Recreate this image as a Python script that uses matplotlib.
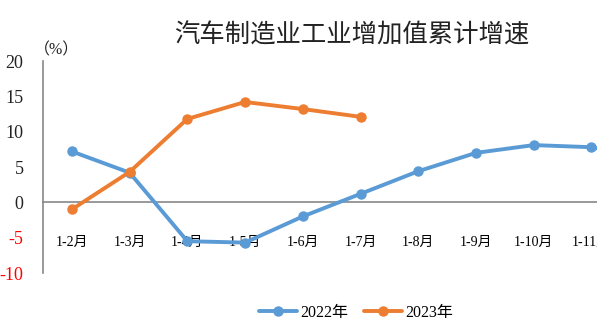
import matplotlib
matplotlib.use("Agg")
import matplotlib.pyplot as plt

plt.rcParams['font.family'] = ['Liberation Serif', 'Noto Sans CJK SC', 'DejaVu Sans']

categories = ["1-2月", "1-3月", "1-4月", "1-5月", "1-6月", "1-7月",
              "1-8月", "1-9月", "1-10月", "1-11月", "1-12月"]
values_2022 = [7.2, 4.2, -5.5, -5.7, -2.0, 1.2, 4.4, 7.0, 8.1, 7.8, 6.3]
values_2023 = [-1.0, 4.3, 11.8, 14.2, 13.2, 12.1]
yticks = [-10, -5, 0, 5, 10, 15, 20]

blue = "#5B9BD5"
orange = "#ED7D31"

fig = plt.figure(figsize=(5.97, 3.35), dpi=100)
ax = fig.add_axes([43/597, 62/335, 635/597, 212/335])

x22 = list(range(len(values_2022)))
x23 = list(range(len(values_2023)))
ax.plot(x22, values_2022, color=blue, lw=2.8, marker='o', ms=6.5,
        label="2022年", solid_capstyle='round', clip_on=False, zorder=3)
ax.plot(x23, values_2023, color=orange, lw=2.8, marker='o', ms=6.5,
        label="2023年", solid_capstyle='round', clip_on=False, zorder=4)

ax.set_xlim(-0.5, len(categories) - 0.5)
ax.set_ylim(-10, 20)
ax.set_yticks(yticks)
ax.set_yticklabels([str(v) for v in yticks], fontsize=13)
for lab, v in zip(ax.get_yticklabels(), yticks):
    lab.set_color('#FF0000' if v < 0 else '#222222')
ax.tick_params(axis='y', length=0, pad=14)

ax.set_xticks(range(len(categories)))
ax.set_xticklabels(categories, fontsize=14, color='#222222')
ax.tick_params(axis='x', length=0, pad=24)

for s in ['top', 'right']:
    ax.spines[s].set_visible(False)
ax.spines['left'].set_color('#888888')
ax.spines['left'].set_linewidth(1.2)
ax.spines['bottom'].set_position(('data', 0))
ax.spines['bottom'].set_color('#888888')
ax.spines['bottom'].set_linewidth(1.2)

fig.text(352/597, 1 - 35/335, "汽车制造业工业增加值累计增速", ha='center', va='center',
         fontsize=18.3, color='#222222')
fig.text(57/597, 1 - 50/335, "（%）", ha='center', va='center', fontsize=11.5,
         color='#222222')

fig.legend(loc='center', bbox_to_anchor=(356/597, 1 - 313/335), ncol=2,
           frameon=False, fontsize=11.5, handlelength=2.4, handletextpad=0.2,
           columnspacing=1.0)

fig.savefig("out.png", dpi=100)
